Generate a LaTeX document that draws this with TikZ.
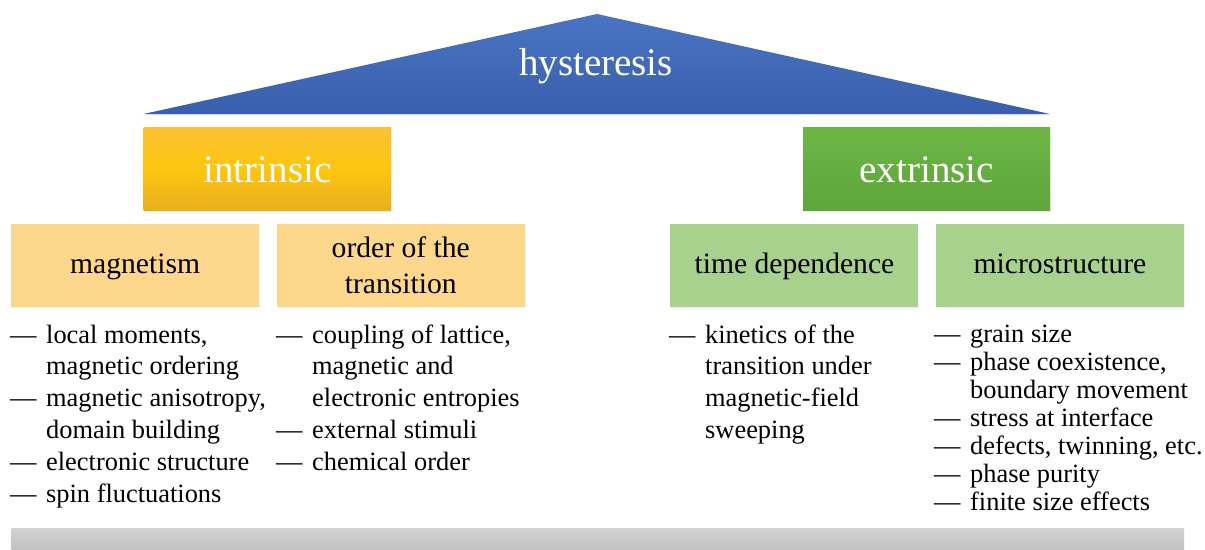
\documentclass[tikz,border=0pt]{standalone}
\usepackage{fontspec}
\setmainfont{Liberation Serif}
\usetikzlibrary{shadows}
\definecolor{triTop}{HTML}{4A74C2}
\definecolor{triBot}{HTML}{385FAC}
\definecolor{goldTop}{HTML}{FAC232}
\definecolor{goldMid}{HTML}{FDC60E}
\definecolor{goldBot}{HTML}{E8AE20}
\definecolor{grnTop}{HTML}{6DB646}
\definecolor{grnBot}{HTML}{5EA53B}
\definecolor{ltOrange}{HTML}{FDD78B}
\definecolor{ltGreen}{HTML}{A9D18E}
\definecolor{barTop}{HTML}{D2D2D2}
\definecolor{barBot}{HTML}{C2C2C2}
\tikzset{
  bigbox/.style={anchor=north west, inner sep=0pt, text=white,
    font=\rmfamily\fontsize{39}{46}\selectfont,
    drop shadow={opacity=0.12, shadow xshift=1pt, shadow yshift=-1.2pt}},
  subbox/.style={anchor=north west, inner sep=0pt, text=black, align=center,
    minimum width=248.5pt, minimum height=82.5pt,
    font=\rmfamily\fontsize{29.6}{35.6}\selectfont,
    drop shadow={opacity=0.10, shadow xshift=1pt, shadow yshift=-1.2pt}},
  onelabel/.style={text height=21pt, text depth=4.5pt},
  listtext/.style={anchor=base west, inner sep=0pt, text=black,
    font=\rmfamily\fontsize{26.4}{31.8}\selectfont},
  listtight/.style={listtext, font=\rmfamily\fontsize{26.4}{28}\selectfont}
}
\newcommand\dl{—}
\begin{document}
\begin{tikzpicture}[x=1pt,y=-1pt]
\useasboundingbox (0,0) rectangle (1205,549);
% triangle
\shade[top color=triTop, bottom color=triBot, drop shadow={opacity=0.12, shadow xshift=0pt, shadow yshift=-1.5pt}]
  (597,14) -- (1050,114) -- (143.5,114) -- cycle;
\node[text=white, font=\rmfamily\fontsize{39}{46}\selectfont, anchor=base, inner sep=0pt] (hyst) at (596,75) {hysteresis};
% main boxes
\node[bigbox, minimum width=247.5pt, minimum height=83pt,
  top color=goldTop, bottom color=goldBot, middle color=goldMid] (intr) at (143.5,127.7) {intrinsic};
\node[bigbox, minimum width=247pt, minimum height=83pt,
  top color=grnTop, bottom color=grnBot] (extr) at (803,127.7) {extrinsic};
% sub boxes
\node[subbox, onelabel, fill=ltOrange] (magn) at (10.7,224) {magnetism};
\node[subbox, fill=ltOrange] (order) at (276.3,224) {order of the\\transition};
\node[subbox, onelabel, fill=ltGreen, minimum width=248pt] (time) at (670.2,224) {time dependence};
\node[subbox, onelabel, fill=ltGreen, minimum width=248pt] (micro) at (935.8,224) {microstructure};
% lists
\node[listtext] (lmagn) at (10,343) {\begin{tabular}[t]{@{}l@{\hspace{9.6pt}}l@{}}
\dl & local moments,\\
    & magnetic ordering\\
\dl & magnetic anisotropy,\\
    & domain building\\
\dl & electronic structure\\
\dl & spin fluctuations
\end{tabular}};
\node[listtext] (lorder) at (276,343) {\begin{tabular}[t]{@{}l@{\hspace{9.6pt}}l@{}}
\dl & coupling of lattice,\\
    & magnetic and\\
    & electronic entropies\\
\dl & external stimuli\\
\dl & chemical order
\end{tabular}};
\node[listtext] (ltime) at (669,343) {\begin{tabular}[t]{@{}l@{\hspace{9.6pt}}l@{}}
\dl & kinetics of the\\
    & transition under\\
    & magnetic-field\\
    & sweeping
\end{tabular}};
\node[listtight] (lmicro) at (934,342) {\begin{tabular}[t]{@{}l@{\hspace{9.6pt}}l@{}}
\dl & grain size\\
\dl & phase coexistence,\\
    & boundary movement\\
\dl & stress at interface\\
\dl & defects, twinning, etc.\\
\dl & phase purity\\
\dl & finite size effects
\end{tabular}};
% bottom bar
\shade[top color=barTop, bottom color=barBot] (11.5,528) rectangle (1184,549);
\end{tikzpicture}
\end{document}
